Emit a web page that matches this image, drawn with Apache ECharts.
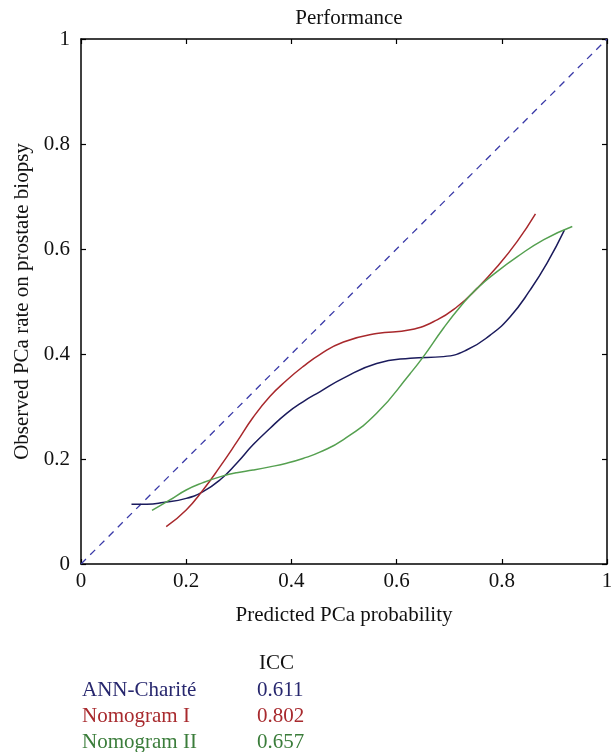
<!DOCTYPE html>
<html><head><meta charset="utf-8">
<script src="https://cdn.jsdelivr.net/npm/echarts@6/dist/echarts.min.js"></script>
<style>html,body{margin:0;padding:0;background:#fff}#c{width:616px;height:752px}</style>
</head><body><div id="c"></div>
<script>
const ticks = [0, 0.2, 0.4, 0.6, 0.8, 1];
const annX = [0.096, 0.125, 0.156, 0.200, 0.232, 0.264, 0.296, 0.327, 0.359, 0.391, 0.422, 0.454, 0.499, 0.562, 0.626, 0.689, 0.734, 0.778, 0.816, 0.854, 0.886, 0.919];
const annY = [0.114, 0.114, 0.117, 0.125, 0.138, 0.160, 0.192, 0.227, 0.258, 0.287, 0.309, 0.328, 0.354, 0.382, 0.392, 0.395, 0.408, 0.436, 0.471, 0.522, 0.573, 0.636];
const nom1X = [0.162, 0.200, 0.232, 0.264, 0.296, 0.327, 0.359, 0.391, 0.422, 0.454, 0.499, 0.562, 0.626, 0.677, 0.715, 0.753, 0.791, 0.829, 0.864];
const nom1Y = [0.071, 0.103, 0.141, 0.185, 0.232, 0.279, 0.319, 0.350, 0.376, 0.399, 0.423, 0.439, 0.446, 0.465, 0.490, 0.525, 0.566, 0.614, 0.667];
const nom2X = [0.135, 0.169, 0.200, 0.232, 0.264, 0.296, 0.327, 0.359, 0.391, 0.422, 0.454, 0.499, 0.562, 0.626, 0.651, 0.689, 0.721, 0.753, 0.791, 0.829, 0.880, 0.934];
const nom2Y = [0.102, 0.122, 0.141, 0.155, 0.166, 0.174, 0.179, 0.185, 0.192, 0.201, 0.213, 0.237, 0.287, 0.363, 0.395, 0.449, 0.490, 0.525, 0.557, 0.585, 0.618, 0.643];
const refX = [0, 1];
const refY = [0, 1];
const seriesNames = ['ANN-Charité', 'Nomogram I', 'Nomogram II'];
const iccValues = ['0.611', '0.802', '0.657'];
const lineColors = ['#1b1b5c', '#a8282c', '#55a050'];
const textColors = ['#27276e', '#a82a2e', '#3b7d3b'];

const zip = (xs, ys) => xs.map((x, i) => [x, ys[i]]);
const FONT = '"Liberation Serif", "DejaVu Serif", serif';
const FS = 21;

const chart = echarts.init(document.getElementById('c'), null, {renderer: 'canvas'});
const axisCommon = {
  type: 'value', min: 0, max: 1, interval: 0.2,
  splitLine: {show: false},
  axisLine: {show: true, onZero: false, lineStyle: {color: '#000', width: 1.5}},
  axisTick: {show: true, inside: true, length: 5, lineStyle: {color: '#000', width: 1.2}}
};
const fmt = v => String(Math.round(v * 10) / 10);
const graphics = [
  {type: 'text', left: 259, top: 653, style: {text: 'ICC', font: FS + 'px ' + FONT, fill: '#111'}}
];
seriesNames.forEach((n, i) => {
  graphics.push({type: 'text', left: 82, top: 680 + i * 26, style: {text: n, font: FS + 'px ' + FONT, fill: textColors[i]}});
  graphics.push({type: 'text', left: 257, top: 680 + i * 26, style: {text: iccValues[i], font: FS + 'px ' + FONT, fill: textColors[i]}});
});

const curve = (name, xs, ys, color) => ({
  type: 'line', name: name, data: zip(xs, ys), smooth: 0.5, symbol: 'none',
  lineStyle: {color: color, width: 1.5}
});

chart.setOption({
  animation: false,
  title: {text: 'Performance', left: 344, top: 3, textAlign: 'center',
    textStyle: {fontFamily: FONT, fontSize: FS, fontWeight: 'normal', color: '#111'}},
  grid: {left: 81, top: 39, width: 526, height: 525, containLabel: false},
  xAxis: [
    Object.assign({}, axisCommon, {position: 'bottom',
      name: 'Predicted PCa probability', nameLocation: 'middle', nameGap: 41,
      nameTextStyle: {fontFamily: FONT, fontSize: FS, color: '#111'},
      axisLabel: {fontFamily: FONT, fontSize: FS, color: '#111', margin: 7, formatter: fmt}}),
    Object.assign({}, axisCommon, {position: 'top', axisLabel: {show: false}})
  ],
  yAxis: [
    Object.assign({}, axisCommon, {position: 'left',
      name: 'Observed PCa rate on prostate biopsy', nameLocation: 'middle', nameGap: 44,
      nameTextStyle: {fontFamily: FONT, fontSize: FS, color: '#111'},
      axisLabel: {fontFamily: FONT, fontSize: FS, color: '#111', margin: 11, formatter: fmt}}),
    Object.assign({}, axisCommon, {position: 'right', axisLabel: {show: false}})
  ],
  series: [
    {type: 'line', data: zip(refX, refY), showSymbol: false, symbol: 'none',
      lineStyle: {color: '#3a3aa8', width: 1.3, type: [7, 6]}},
    curve(seriesNames[0], annX, annY, lineColors[0]),
    curve(seriesNames[1], nom1X, nom1Y, lineColors[1]),
    curve(seriesNames[2], nom2X, nom2Y, lineColors[2])
  ],
  graphic: graphics
});
</script></body></html>
